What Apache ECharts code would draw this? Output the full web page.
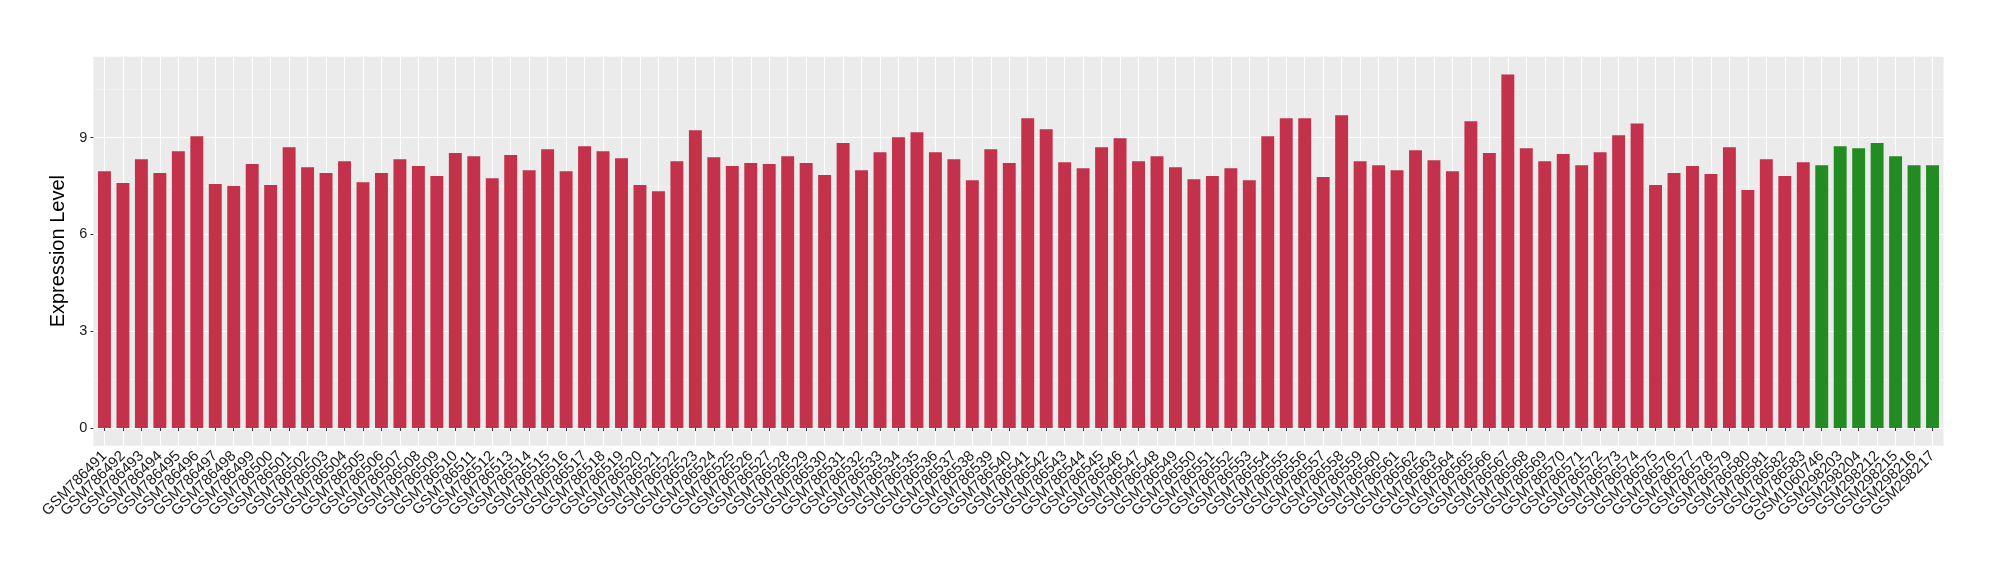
<!DOCTYPE html>
<html>
<head>
<meta charset="utf-8">
<script src="https://cdn.jsdelivr.net/npm/echarts@6/dist/echarts.min.js"></script>
<style>html,body{margin:0;padding:0;background:#fff}#chart{width:2000px;height:580px}</style>
</head>
<body>
<div id="chart"></div>
<script>
const sampleIds = [
  'GSM786491','GSM786492','GSM786493','GSM786494','GSM786495','GSM786496','GSM786497','GSM786498','GSM786499','GSM786500',
  'GSM786501','GSM786502','GSM786503','GSM786504','GSM786505','GSM786506','GSM786507','GSM786508','GSM786509','GSM786510',
  'GSM786511','GSM786512','GSM786513','GSM786514','GSM786515','GSM786516','GSM786517','GSM786518','GSM786519','GSM786520',
  'GSM786521','GSM786522','GSM786523','GSM786524','GSM786525','GSM786526','GSM786527','GSM786528','GSM786529','GSM786530',
  'GSM786531','GSM786532','GSM786533','GSM786534','GSM786535','GSM786536','GSM786537','GSM786538','GSM786539','GSM786540',
  'GSM786541','GSM786542','GSM786543','GSM786544','GSM786545','GSM786546','GSM786547','GSM786548','GSM786549','GSM786550',
  'GSM786551','GSM786552','GSM786553','GSM786554','GSM786555','GSM786556','GSM786557','GSM786558','GSM786559','GSM786560',
  'GSM786561','GSM786562','GSM786563','GSM786564','GSM786565','GSM786566','GSM786567','GSM786568','GSM786569','GSM786570',
  'GSM786571','GSM786572','GSM786573','GSM786574','GSM786575','GSM786576','GSM786577','GSM786578','GSM786579','GSM786580',
  'GSM786581','GSM786582','GSM786583','GSM1060746','GSM298203','GSM298204','GSM298212','GSM298215','GSM298216','GSM298217'
];
const expression = [
  7.96, 7.59, 8.33, 7.90, 8.58, 9.04, 7.56, 7.50, 8.18, 7.53,
  8.70, 8.08, 7.90, 8.27, 7.62, 7.90, 8.33, 8.12, 7.81, 8.52,
  8.42, 7.74, 8.46, 7.99, 8.64, 7.96, 8.73, 8.58, 8.36, 7.53,
  7.34, 8.27, 9.23, 8.39, 8.12, 8.21, 8.18, 8.42, 8.21, 7.84,
  8.83, 7.99, 8.55, 9.01, 9.17, 8.55, 8.33, 7.68, 8.64, 8.21,
  9.60, 9.26, 8.24, 8.05, 8.70, 8.98, 8.27, 8.42, 8.08, 7.71,
  7.81, 8.05, 7.68, 9.04, 9.60, 9.60, 7.78, 9.69, 8.27, 8.14,
  7.99, 8.61, 8.30, 7.96, 9.51, 8.52, 10.96, 8.67, 8.27, 8.49,
  8.14, 8.55, 9.07, 9.44, 7.53, 7.90, 8.12, 7.87, 8.70, 7.38,
  8.33, 7.81, 8.24, 8.14, 8.73, 8.67, 8.83, 8.42, 8.14, 8.14
];
const normalSamples = ['GSM1060746','GSM298203','GSM298204','GSM298212','GSM298215','GSM298216','GSM298217'];
const yTickValues = [0, 3, 6, 9];
const yMinorValues = [1.5, 4.5, 7.5, 10.5];
const yTitle = 'Expression Level';

const tumorColor = '#C3314A';
const normalColor = '#228B22';
const textColor = '#1A1A1A';
const font = 'Liberation Sans, Arial, sans-serif';

const n = sampleIds.length;
const positions = sampleIds.map((_, i) => i + 1);
const xMin = 1 - 0.6, xMax = n + 0.6;
// blank guard labels at the panel edges so that ECharts' min/max-label overlap check never hides a real label
const labelValues = [xMin + 0.01].concat(positions, [xMax - 0.01]);
const maxVal = Math.max(...expression);
const yMin = -0.05 * maxVal;
const yMax = 1.05 * maxVal;

const chart = echarts.init(document.getElementById('chart'), null, {renderer: 'canvas'});
chart.setOption({
  animation: false,
  backgroundColor: '#ffffff',
  grid: {
    left: 93.4, right: 56.4, top: 56.7, bottom: 134.3,
    show: true, backgroundColor: '#EBEBEB', borderWidth: 0
  },
  xAxis: {
    type: 'value',
    min: xMin, max: xMax,
    axisLine: {show: false},
    axisTick: {show: true, customValues: positions, length: 3, lineStyle: {color: '#333333', width: 1}},
    axisLabel: {
      customValues: labelValues,
      showMinLabel: false, showMaxLabel: false, hideOverlap: false,
      rotate: 45, margin: 8,
      fontSize: 15, fontFamily: font, color: textColor,
      formatter: v => (Math.abs(v - Math.round(v)) < 1e-6 ? (sampleIds[Math.round(v) - 1] || '') : '')
    },
    splitLine: {show: true, lineStyle: {color: '#FFFFFF', width: 1.1}}
  },
  yAxis: [
    {
      type: 'value',
      min: yMin, max: yMax,
      name: yTitle, nameLocation: 'middle', nameGap: 17, nameRotate: 90,
      nameTextStyle: {fontSize: 20, fontFamily: font, color: '#000000'},
      axisLine: {show: false},
      axisTick: {show: true, customValues: yTickValues, length: 3, lineStyle: {color: '#333333', width: 1}},
      axisLabel: {customValues: yTickValues, showMinLabel: true, showMaxLabel: true, margin: 6, fontSize: 14.5, fontFamily: font, color: textColor},
      splitLine: {show: true, lineStyle: {color: '#FFFFFF', width: 1.1}}
    },
    {
      type: 'value',
      position: 'left',
      min: yMin, max: yMax,
      axisLine: {show: false},
      axisTick: {show: false, customValues: yMinorValues},
      axisLabel: {show: false, customValues: yMinorValues},
      splitLine: {show: true, lineStyle: {color: '#F6F6F6', width: 0.6}}
    }
  ],
  series: [{
    type: 'bar',
    xAxisIndex: 0, yAxisIndex: 0,
    barWidth: '70%',
    data: expression.map((v, i) => ({
      value: [positions[i], v],
      itemStyle: {color: normalSamples.includes(sampleIds[i]) ? normalColor : tumorColor}
    }))
  }]
});
</script>
</body>
</html>
